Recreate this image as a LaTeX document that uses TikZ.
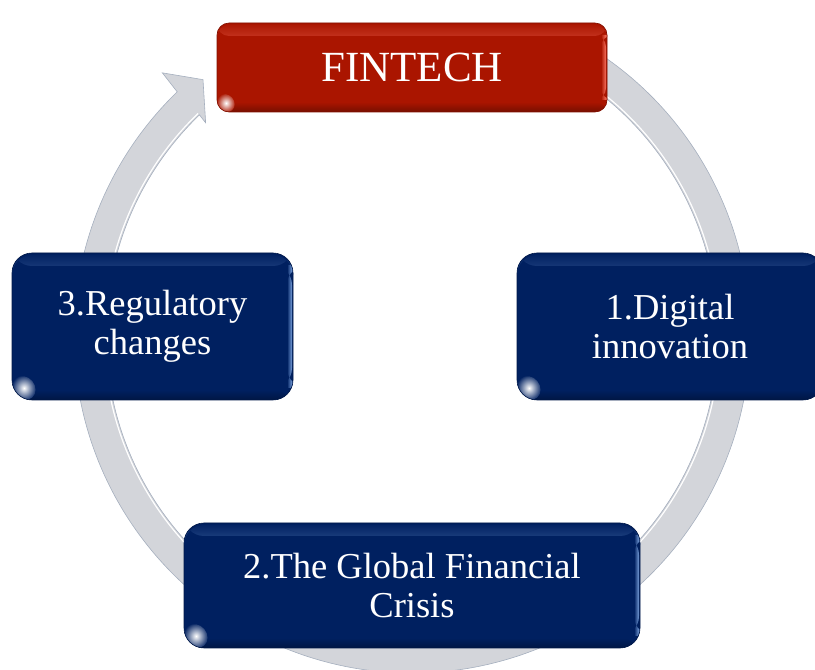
\documentclass[tikz,border=0pt]{standalone}
\usepackage{fontspec}
\setmainfont{Liberation Serif}
\definecolor{navy}{RGB}{0,32,96}
\definecolor{navyhl}{RGB}{120,160,220}
\definecolor{fred}{RGB}{170,21,0}
\definecolor{fredhl}{RGB}{250,115,95}
\definecolor{ringc}{RGB}{211,213,218}
\definecolor{ringe}{RGB}{165,175,190}
\tikzset{
  gloss/.style n args={3}{fill=#1, draw=#1!75!black, line width=.6pt, text=white,
    align=center, inner sep=0pt,
    path picture={
      \shade[top color=#1, bottom color=#1, middle color=#2]
        ([yshift=-2pt]path picture bounding box.north west) rectangle
        ([yshift=-13pt]path picture bounding box.north east);
      \shade[left color=#1, right color=#2]
        ([xshift=-6pt,yshift=-12pt]path picture bounding box.north east) rectangle
        ([xshift=-1pt,yshift=12pt]path picture bounding box.south east);
      \shade[top color=#1, bottom color=#1!70!black]
        ([yshift=10pt]path picture bounding box.south west) rectangle
        (path picture bounding box.south east);
      \shade[inner color=white, outer color=#1]
        ([xshift=#3,yshift=#3]path picture bounding box.south west)
        ellipse[x radius=0.9*#3, y radius=1.05*#3, rotate=40];
    }},
  bigtxt/.style={font=\fontsize{36.5}{39.5}\selectfont},
  ringshape/.style={fill=ringc, draw=ringe, line width=.6pt, line join=miter}
}
\begin{document}
\begin{tikzpicture}[x=1pt,y=1pt]
\useasboundingbox (0,0) rectangle (815,670);
% circular arrow
\begin{scope}[shift={(412,335)}]
  \path[ringshape] (67:338pt) arc[start angle=67, end angle=-226, radius=338pt]
     -- (-226.4:362pt) -- (-230.7:330pt) -- (-225.8:296pt) -- (-226:306pt)
     arc[start angle=-226, end angle=67, radius=306pt] -- cycle;
  \draw[white, line width=1.2pt] (-226:308pt) arc[start angle=-226, end angle=66, radius=308pt];
\end{scope}
% boxes
\node[gloss={fred}{fredhl}{9pt}, rounded corners=12pt, minimum width=390pt, minimum height=89pt,
      font=\fontsize{43}{47}\selectfont] (fin) at (412,602.5) {FINTECH};
\node[gloss={navy}{navyhl}{12pt}, rounded corners=20pt, minimum width=306pt, minimum height=147pt,
      bigtxt] (dig) at (670,343.5) {1.Digital\\innovation};
\node[gloss={navy}{navyhl}{12pt}, rounded corners=20pt, minimum width=456pt, minimum height=125pt,
      bigtxt] (gfc) at (412,84.5) {2.The Global Financial\\Crisis};
\node[gloss={navy}{navyhl}{12pt}, rounded corners=20pt, minimum width=281pt, minimum height=147pt,
      bigtxt] (reg) at (152.5,343.5) {3.Regulatory\\changes};
\end{tikzpicture}
\end{document}
